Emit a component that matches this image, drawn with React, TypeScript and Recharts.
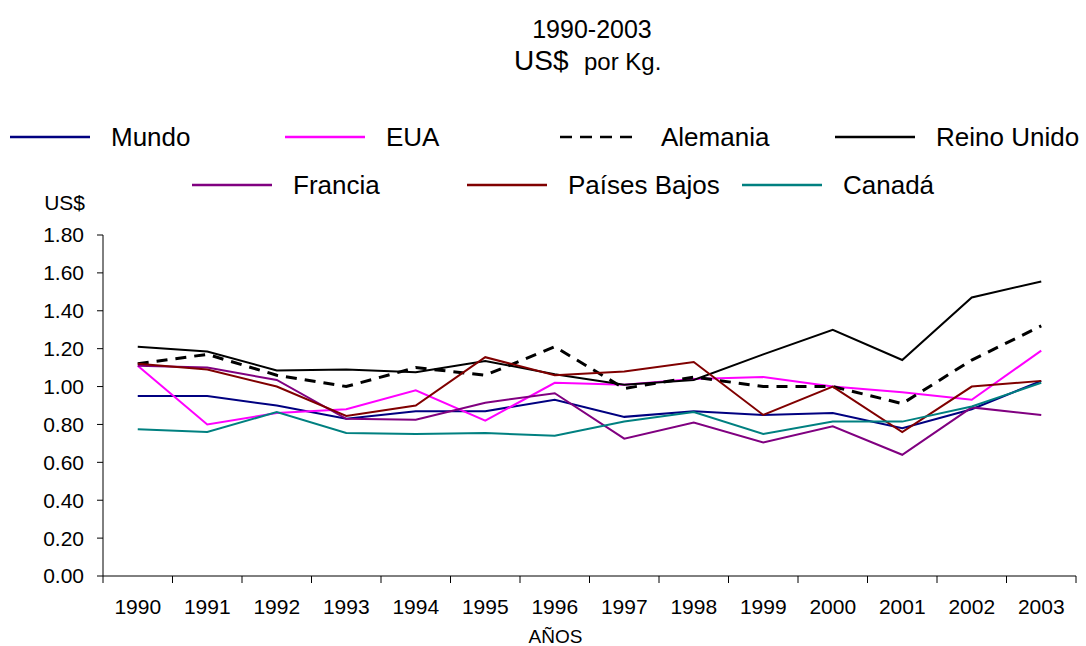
import React from 'react';
import { LineChart, Line, XAxis, YAxis, Legend } from 'recharts';

const years = ['1990', '1991', '1992', '1993', '1994', '1995', '1996', '1997', '1998', '1999', '2000', '2001', '2002', '2003'];

const mundo = [0.95, 0.95, 0.9, 0.83, 0.87, 0.87, 0.93, 0.84, 0.87, 0.85, 0.86, 0.78, 0.88, 1.03];
const eua = [1.11, 0.8, 0.86, 0.88, 0.98, 0.82, 1.02, 1.01, 1.04, 1.05, 1.0, 0.97, 0.93, 1.19];
const alemania = [1.12, 1.17, 1.06, 1.0, 1.1, 1.06, 1.21, 0.99, 1.05, 1.0, 1.0, 0.91, 1.14, 1.32];
const reinoUnido = [1.21, 1.185, 1.085, 1.09, 1.075, 1.135, 1.065, 1.01, 1.035, 1.17, 1.3, 1.14, 1.47, 1.555];
const francia = [1.11, 1.1, 1.035, 0.83, 0.825, 0.915, 0.965, 0.725, 0.81, 0.705, 0.79, 0.64, 0.89, 0.85];
const paisesBajos = [1.12, 1.09, 1.0, 0.845, 0.9, 1.155, 1.06, 1.08, 1.13, 0.85, 1.0, 0.76, 1.0, 1.03];
const canada = [0.775, 0.76, 0.865, 0.755, 0.75, 0.755, 0.74, 0.815, 0.865, 0.75, 0.815, 0.815, 0.895, 1.02];

const yTicks = [0, 0.2, 0.4, 0.6, 0.8, 1.0, 1.2, 1.4, 1.6, 1.8];

const FONT = '"Liberation Sans", Arial, Helvetica, sans-serif';

type Serie = { key: string; name: string; color: string; values: number[]; dash?: string; width: number };

const series: Serie[] = [
  { key: 'mundo', name: 'Mundo', color: '#000080', values: mundo, width: 2 },
  { key: 'eua', name: 'EUA', color: '#FF00FF', values: eua, width: 2 },
  { key: 'alemania', name: 'Alemania', color: '#000000', values: alemania, dash: '11 8', width: 3 },
  { key: 'reinoUnido', name: 'Reino Unido', color: '#000000', values: reinoUnido, width: 2 },
  { key: 'francia', name: 'Francia', color: '#800080', values: francia, width: 2 },
  { key: 'paisesBajos', name: 'Países Bajos', color: '#800000', values: paisesBajos, width: 2 },
  { key: 'canada', name: 'Canadá', color: '#008080', values: canada, width: 2 },
];

const data = years.map((year, i) => {
  const row: Record<string, number | string> = { x: i, year };
  series.forEach((s) => {
    row[s.key] = s.values[i];
  });
  return row;
});

// integer ticks carry the year labels, half ticks carry the tick marks between categories
const xTicks: number[] = [];
for (let i = 0; i <= years.length * 2; i++) xTicks.push(-0.5 + i * 0.5);

const X_TICK_SIZE = 7;
const X_TICK_MARGIN = 16;

const XTick = (props: any) => {
  const { x, y, payload } = props;
  const v = payload.value;
  if (Number.isInteger(v)) {
    return (
      <text x={x} y={y} dy="0.71em" textAnchor="middle" fontSize={21} fontFamily={FONT} fill="#000">
        {years[v]}
      </text>
    );
  }
  return <line x1={x} x2={x} y1={y - X_TICK_MARGIN - X_TICK_SIZE} y2={y - X_TICK_MARGIN} stroke="#000" strokeWidth={1} />;
};

const LegendItem = ({ s }: { s: Serie }) => (
  <div style={{ width: 275, display: 'flex', alignItems: 'center', height: 30 }}>
    <svg width={80} height={10} style={{ marginRight: 21, flex: 'none' }}>
      <line x1={0} x2={80} y1={5} y2={5} stroke={s.color} strokeWidth={2.5} strokeDasharray={s.dash ? '12 8' : undefined} />
    </svg>
    <span style={{ fontFamily: FONT, fontSize: 26, lineHeight: '30px', color: '#000', whiteSpace: 'nowrap' }}>{s.name}</span>
  </div>
);

const LegendBox = () => (
  <div style={{ position: 'relative', width: 1086, height: 100 }}>
    <div style={{ position: 'absolute', left: 10, top: 12, display: 'flex' }}>
      {series.slice(0, 4).map((s) => (
        <LegendItem key={s.key} s={s} />
      ))}
    </div>
    <div style={{ position: 'absolute', left: 192, top: 60, display: 'flex' }}>
      {series.slice(4).map((s) => (
        <LegendItem key={s.key} s={s} />
      ))}
    </div>
  </div>
);

export default function App() {
  return (
    <div style={{ position: 'absolute', left: 0, top: 0, width: 1086, height: 646, background: '#fff' }}>
      <LineChart width={1086} height={646} data={data} margin={{ top: 235, right: 10, bottom: 0, left: 0 }}>
        <XAxis
          dataKey="x"
          type="number"
          domain={[-0.5, 13.5]}
          ticks={xTicks}
          interval={0}
          height={70}
          stroke="#000"
          tickLine={false}
          tickSize={X_TICK_SIZE}
          tickMargin={X_TICK_MARGIN}
          tick={<XTick />}
          label={{
            value: 'AÑOS',
            content: (p: any) => (
              <text
                x={p.viewBox.x + p.viewBox.width / 2 - 34}
                y={p.viewBox.y + p.viewBox.height - 3}
                textAnchor="middle"
                fontSize={19}
                fontFamily={FONT}
                fill="#000"
              >
                AÑOS
              </text>
            ),
          }}
        />
        <YAxis
          type="number"
          domain={[0, 1.8]}
          ticks={yTicks}
          interval={0}
          width={103}
          stroke="#000"
          tickSize={6}
          tickMargin={13}
          tickFormatter={(v: number) => v.toFixed(2)}
          tick={{ fontSize: 21, fill: '#000', fontFamily: FONT }}
          label={{
            value: 'US$',
            content: (p: any) => (
              <text
                x={p.viewBox.x + p.viewBox.width - 18}
                y={p.viewBox.y - 25}
                textAnchor="end"
                fontSize={21}
                fontFamily={FONT}
                fill="#000"
              >
                US$
              </text>
            ),
          }}
        />
        <Legend
          layout="vertical"
          verticalAlign="middle"
          align="center"
          width={1086}
          wrapperStyle={{ top: 110, left: 0, width: 1086, height: 100 }}
          content={() => <LegendBox />}
        />
        {series.map((s) => (
          <Line
            key={s.key}
            type="linear"
            dataKey={s.key}
            name={s.name}
            stroke={s.color}
            strokeWidth={s.width}
            strokeDasharray={s.dash}
            dot={false}
            activeDot={false}
            isAnimationActive={false}
          />
        ))}
      </LineChart>
      <svg width={1086} height={100} style={{ position: 'absolute', left: 0, top: 0, pointerEvents: 'none' }}>
        <text x={592} y={38} textAnchor="middle" fontSize={25} fontFamily={FONT} fill="#000">
          1990-2003
        </text>
        <text x={514} y={70} textAnchor="start" fontFamily={FONT} fill="#000" fontSize={28}>
          US$
        </text>
        <text x={584} y={70} textAnchor="start" fontFamily={FONT} fill="#000" fontSize={24}>
          por Kg.
        </text>
      </svg>
    </div>
  );
}
